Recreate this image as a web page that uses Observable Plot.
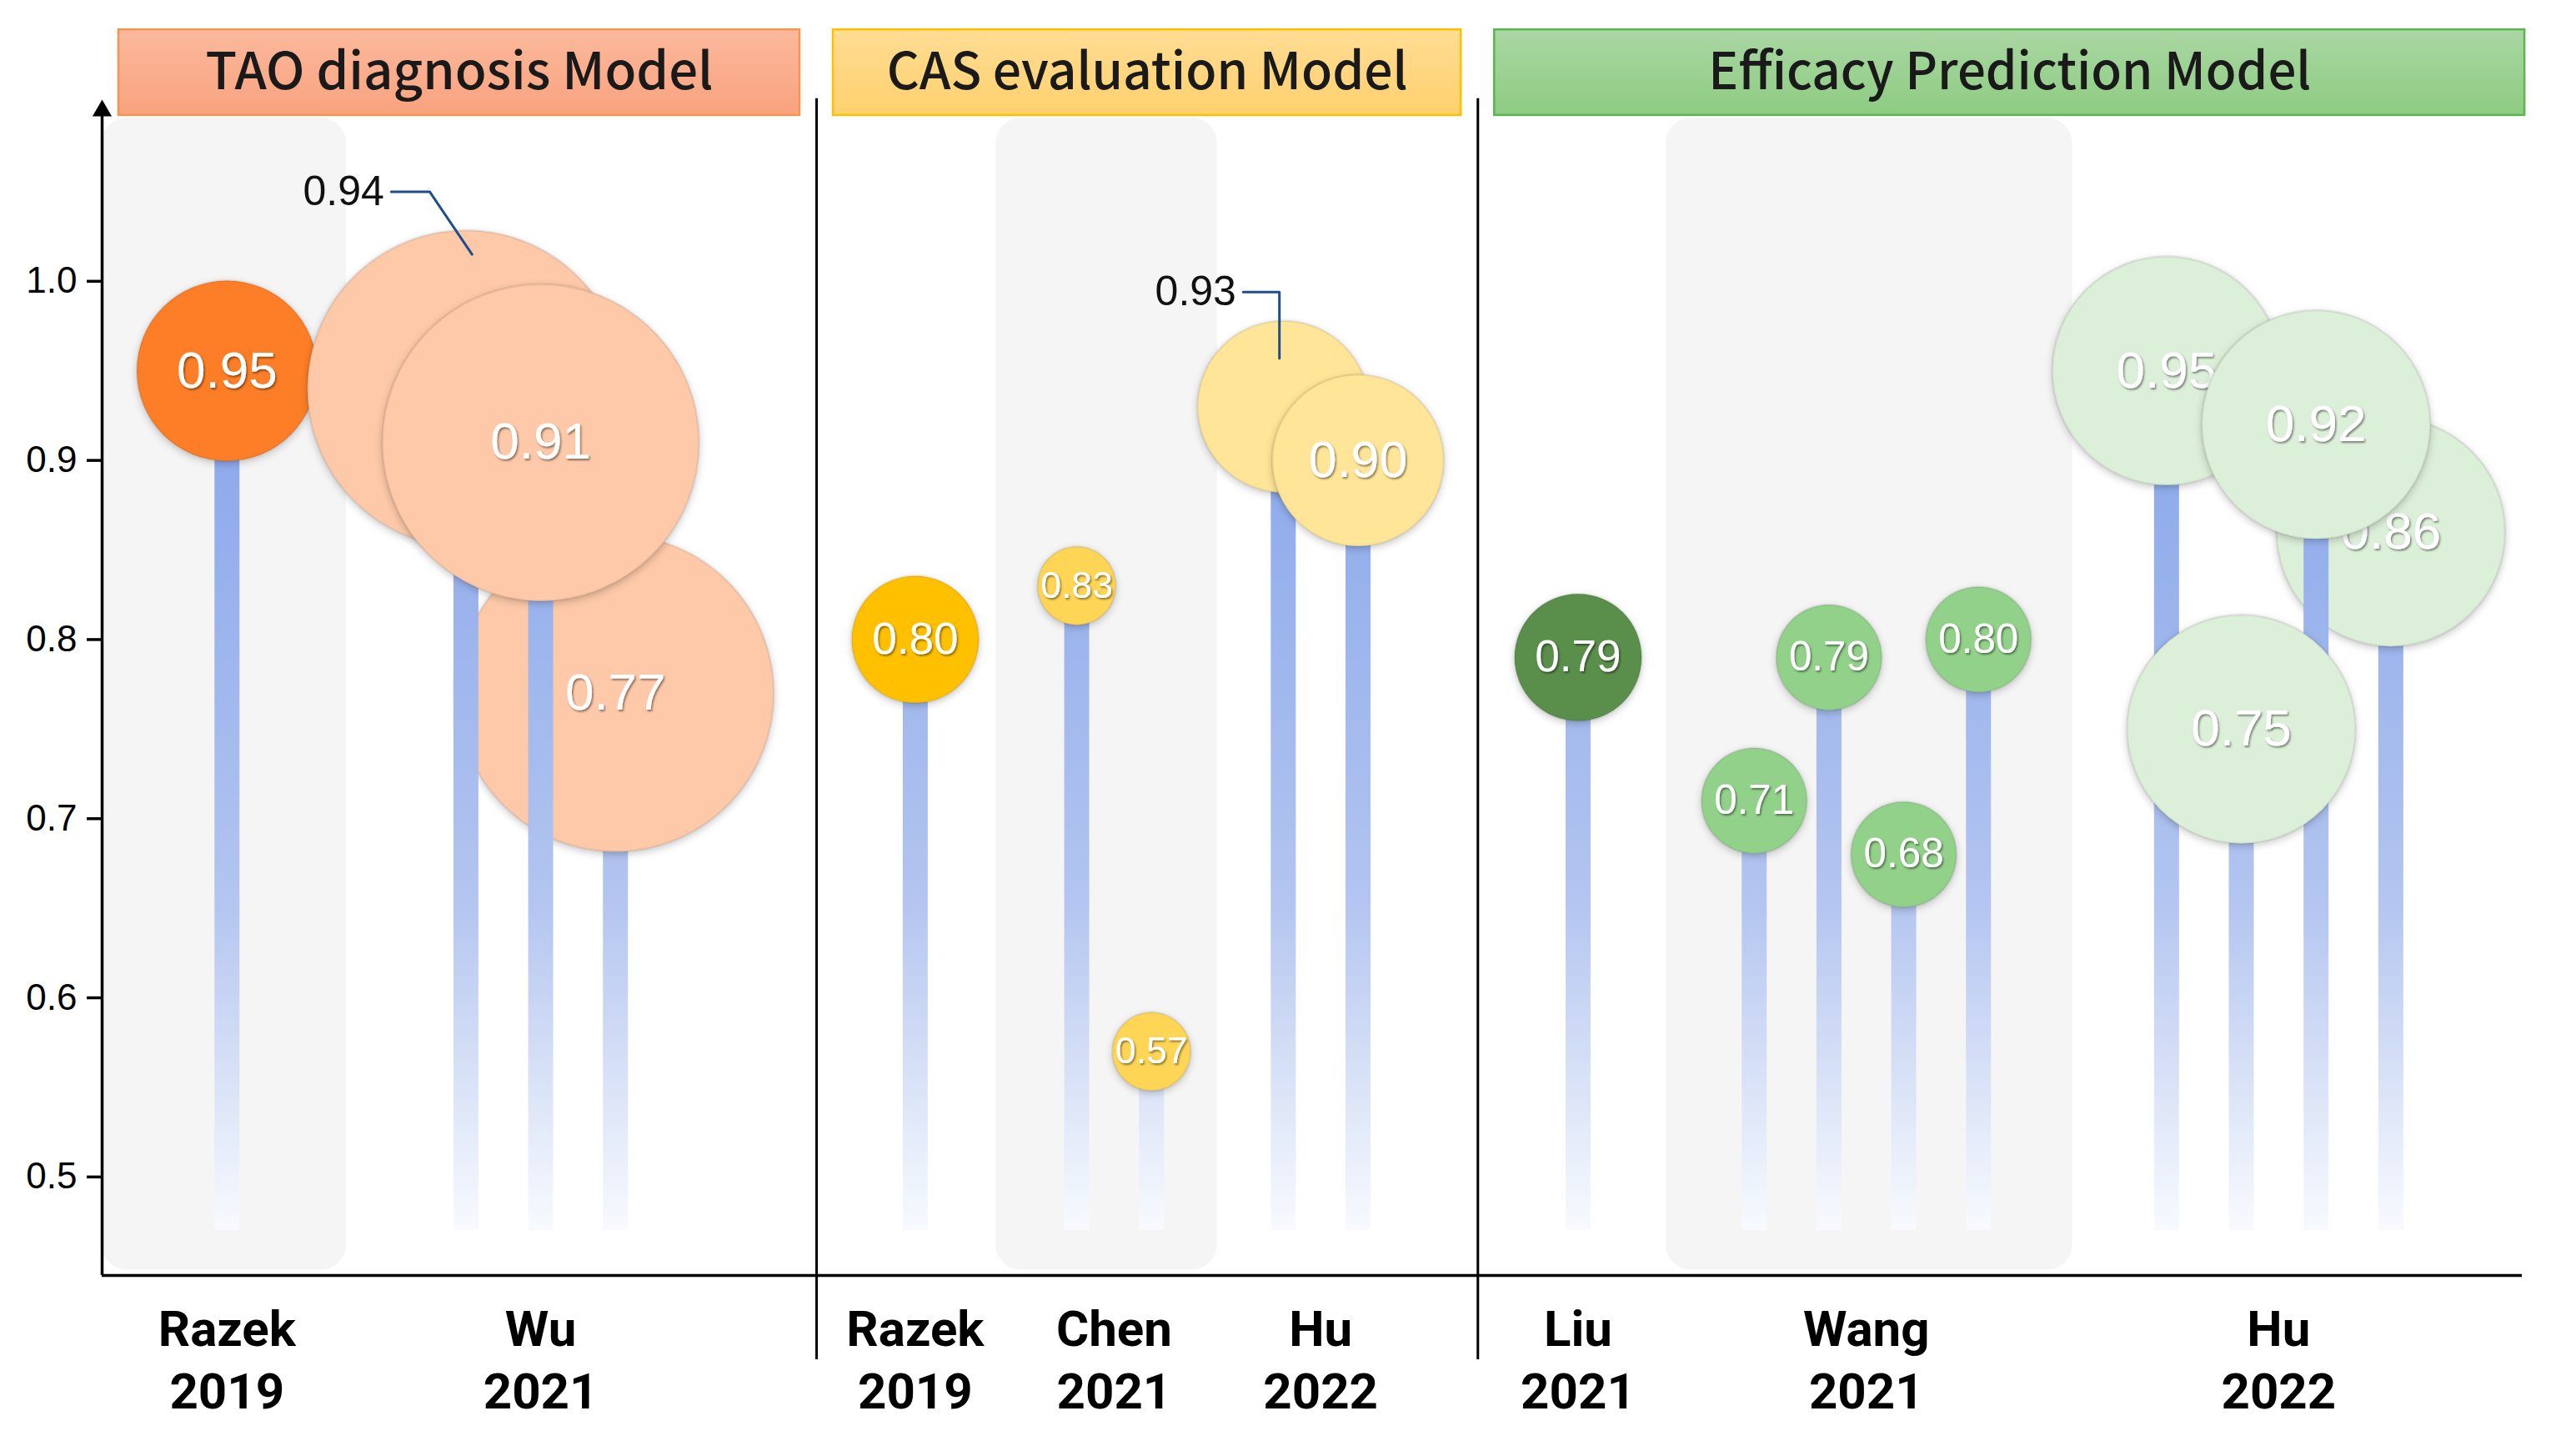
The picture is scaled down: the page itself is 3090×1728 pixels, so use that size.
<!DOCTYPE html>
<html>
<head>
<meta charset="utf-8">
<script src="https://cdn.jsdelivr.net/npm/d3@7"></script>
<script src="https://cdn.jsdelivr.net/npm/@observablehq/plot@0.6"></script>
<style>
  html, body { margin: 0; padding: 0; background: #ffffff; }
  #chart svg { display: block; }
</style>
</head>
<body>
<div id="chart"></div>
<script>
// ---------------- DATA ----------------
const groups = ["TAO diagnosis Model", "CAS evaluation Model", "Efficacy Prediction Model"];
const groupBounds = [0, 9.27, 17.85, 31.65];           // category band boundaries along the axis

const studyGroup  = [0, 0, 1, 1, 1, 2, 2, 2];
const studyAuthor = ["Razek", "Wu", "Razek", "Chen", "Hu", "Liu", "Wang", "Hu"];
const studyYear   = ["2019", "2021", "2019", "2021", "2022", "2021", "2021", "2022"];
const studyCenter = [1.62, 5.69, 10.55, 13.13, 15.81, 19.15, 22.89, 28.24];
const studyWeight = [117, 361, 58, 22, 106, 58, 40, 188];   // relative bubble area
const studyColor  = ["#fd7e26", "#fdc9a8", "#ffc000", "#ffd556", "#ffe597", "#5a8e4c", "#92d18a", "#dcefd8"];
const shadedStudies = [0, 3, 6];

// points, listed in drawing order
const pointStudy = [0, 1, 1, 1, 2, 3, 3, 4, 4, 5, 6, 6, 6, 6, 7, 7, 7, 7];
const pointIndex = [0, 2, 0, 1, 0, 0, 1, 0, 1, 0, 0, 1, 2, 3, 3, 0, 2, 1];
const pointAUC   = [0.95, 0.77, 0.94, 0.91, 0.80, 0.83, 0.57, 0.93, 0.90, 0.79, 0.71, 0.79, 0.68, 0.80, 0.86, 0.95, 0.92, 0.75];
const pointLabel = ["in", "in", "out", "in", "in", "in", "in", "out", "in", "in", "in", "in", "in", "in", "in", "in", "in", "in"];

const yTicks = [0.5, 0.6, 0.7, 0.8, 0.9, 1.0];

// ---------------- LAYOUT HELPERS ----------------
const STEP = 0.97;
const studyCount = studyAuthor.map((_, s) => pointStudy.filter(v => v === s).length);
const studyKey = studyAuthor.map((a, s) => `${groups[studyGroup[s]]}|${a} ${studyYear[s]}`);
const points = pointAUC.map((v, i) => {
  const s = pointStudy[i];
  return {
    study: studyKey[s], s, value: v, label: pointLabel[i], weight: studyWeight[s],
    x: studyCenter[s] + (pointIndex[i] - (studyCount[s] - 1) / 2) * STEP
  };
});
const studyMin = s => d3.min(points.filter(p => p.s === s), p => p.x);
const studyMax = s => d3.max(points.filter(p => p.s === s), p => p.x);
function panelLeft(s) {
  const g = studyGroup[s];
  return (s > 0 && studyGroup[s - 1] === g) ? (studyMax(s - 1) + studyMin(s)) / 2 : groupBounds[g];
}
function panelRight(s) {
  const g = studyGroup[s];
  return (s < studyAuthor.length - 1 && studyGroup[s + 1] === g) ? (studyMax(s) + studyMin(s + 1)) / 2 : groupBounds[g + 1];
}

const R_DOMAIN = [0, 361], R_RANGE = [0, 190];
const rPx = d3.scaleSqrt().domain(R_DOMAIN).range(R_RANGE);
const labelSize = p => Math.min(62, 31 + 0.29 * rPx(p.weight));

// call-out offsets for labels drawn outside the bubble (axis units)
const callouts = [
  {text: [-1.06, 0.110], path: [[-0.97, 0.110], [-0.47, 0.110], [0.08, 0.075]]},
  {text: [-0.61, 0.064], path: [[-0.52, 0.064], [-0.05, 0.064], [-0.05, 0.027]]}
];

const Y0 = 0.445, YTOP = 1.1, STEM_END = 0.47;
const hdrStroke = ["#f7944e", "#ffc000", "#5cb551"];
const FONT_NUM = "'Liberation Sans', Arial, sans-serif";
const FONT_CJK = "'Noto Sans CJK SC', 'Noto Sans', sans-serif";
const FONT_CAT = "Roboto, 'Liberation Sans', sans-serif";

// ---------------- MARKS ----------------
const marks = [];

// shaded study panels
marks.push(Plot.rect(shadedStudies, {
  x1: s => panelLeft(s), x2: s => panelRight(s),
  y1: () => 0.448, y2: () => 1.091,
  fill: "#f5f5f5", rx: 30
}));

// header boxes + titles
groups.forEach((g, i) => {
  marks.push(Plot.rect([i], {
    x1: d => groupBounds[d], x2: d => groupBounds[d + 1],
    y1: () => 1.0926, y2: () => 1.1404,
    insetLeft: 20, insetRight: 20,
    fill: `url(#hdr${i})`, stroke: hdrStroke[i], strokeWidth: 2.5
  }));
});
marks.push(Plot.text(groups, {
  x: (d, i) => (groupBounds[i] + groupBounds[i + 1]) / 2,
  y: () => 1.1161,
  text: d => d,
  fontSize: 61, fontFamily: FONT_CJK, fontWeight: 500, fill: "#1a1a1a"
}));

// axes
marks.push(Plot.axisY({ticks: yTicks, tickFormat: d => d.toFixed(1), tickSize: 18, tickPadding: 12, label: null,
  fontSize: 44, fontFamily: FONT_NUM, strokeWidth: 3.5, stroke: "#000", fill: "#000"}));
marks.push(Plot.ruleX([0], {y1: () => Y0, y2: () => 1.0955, stroke: "#000", strokeWidth: 3.5}));
marks.push(Plot.dot([0], {x: d => d, y: () => 1.0952, symbol: "triangle", r: 8.6, fill: "#000", stroke: "none"}));
marks.push(Plot.ruleY([Y0], {x1: () => 0, x2: () => 31.4, stroke: "#000", strokeWidth: 3.5}));
marks.push(Plot.ruleX(groupBounds.slice(1, 3), {y1: () => 0.398, y2: () => 1.102, stroke: "#000", strokeWidth: 3}));

// study labels (x axis categories): author line and year line
const studyIdx = studyAuthor.map((a, s) => s);
marks.push(Plot.text(studyIdx, {
  x: s => studyCenter[s], y: () => Y0, text: s => studyAuthor[s],
  lineAnchor: "top", dy: 42,
  fontSize: 60, fontWeight: 700, fontFamily: FONT_CAT, fill: "#000"
}));
marks.push(Plot.text(studyIdx, {
  x: s => studyCenter[s], y: () => Y0, text: s => studyYear[s],
  lineAnchor: "top", dy: 117,
  fontSize: 60, fontWeight: 700, fontFamily: FONT_CAT, fill: "#000"
}));

// stems, bubbles, labels in drawing order
let calloutIdx = 0;
points.forEach(p => {
  marks.push(Plot.ruleX([p], {x: "x", y1: "value", y2: () => STEM_END, stroke: "url(#stemGrad)", strokeWidth: 30}));
  marks.push(Plot.dot([p], {x: "x", y: "value", r: "weight", fill: "study", stroke: "#000", strokeOpacity: 0.08, strokeWidth: 2.5}));
  if (p.label === "in") {
    marks.push(Plot.text([p], {x: "x", y: "value", text: d => d.value.toFixed(2), fill: "white",
      fontSize: labelSize(p), fontFamily: FONT_NUM}));
  } else {
    const c = callouts[calloutIdx++];
    marks.push(Plot.line(c.path, {x: d => p.x + d[0], y: d => p.value + d[1], stroke: "#1f4e8c", strokeWidth: 3}));
    marks.push(Plot.text([p], {x: d => d.x + c.text[0], y: d => d.value + c.text[1], text: d => d.value.toFixed(2),
      textAnchor: "end", fill: "#111", fontSize: 50, fontFamily: FONT_NUM}));
  }
});

// ---------------- PLOT ----------------
const plot = Plot.plot({
  width: 3090, height: 1728,
  marginLeft: 122, marginRight: 65, marginTop: 122, marginBottom: 199,
  x: {domain: [0, 31.4], axis: null},
  y: {domain: [Y0, YTOP], label: null},
  r: {type: "sqrt", domain: R_DOMAIN, range: R_RANGE},
  color: {type: "ordinal", domain: studyKey, range: studyColor},
  style: {background: "#ffffff", overflow: "visible"},
  marks
});

const yS = plot.scale("y");
const svg = d3.select(plot);
svg.insert("defs", ":first-child").html(`
  <linearGradient id="stemGrad" gradientUnits="userSpaceOnUse" x1="0" x2="0" y1="${yS.apply(0.95)}" y2="${yS.apply(STEM_END)}">
    <stop offset="0" stop-color="#86a5ea"/>
    <stop offset="0.62" stop-color="#b3c5f0"/>
    <stop offset="0.86" stop-color="#dfe7f8"/>
    <stop offset="1" stop-color="#f8fafe"/>
  </linearGradient>
  <linearGradient id="hdr0" x1="0" x2="0" y1="0" y2="1">
    <stop offset="0" stop-color="#fbb99c"/><stop offset="1" stop-color="#f9a27e"/>
  </linearGradient>
  <linearGradient id="hdr1" x1="0" x2="0" y1="0" y2="1">
    <stop offset="0" stop-color="#ffdd94"/><stop offset="1" stop-color="#ffd06d"/>
  </linearGradient>
  <linearGradient id="hdr2" x1="0" x2="0" y1="0" y2="1">
    <stop offset="0" stop-color="#aad7a2"/><stop offset="1" stop-color="#8dcc82"/>
  </linearGradient>
  <filter id="bubbleShadow" x="-20%" y="-20%" width="140%" height="150%">
    <feDropShadow dx="0" dy="3" stdDeviation="5" flood-color="#000" flood-opacity="0.22"/>
  </filter>
  <filter id="textShadow" x="-20%" y="-30%" width="140%" height="160%">
    <feDropShadow dx="1.5" dy="2" stdDeviation="1" flood-color="#000" flood-opacity="0.45"/>
  </filter>
`);
svg.selectAll('g[aria-label="dot"] circle').attr("filter", "url(#bubbleShadow)");
svg.selectAll('g[aria-label="text"][fill="white"]').attr("filter", "url(#textShadow)");
// fit header titles to box text widths
const hdrWidths = [609, 625, 723];
svg.selectAll('g[aria-label="text"][font-size="61"] text').each(function(d, i) {
  this.setAttribute("textLength", hdrWidths[i]);
  this.setAttribute("lengthAdjust", "spacingAndGlyphs");
});

document.getElementById("chart").append(plot);
</script>
</body>
</html>
